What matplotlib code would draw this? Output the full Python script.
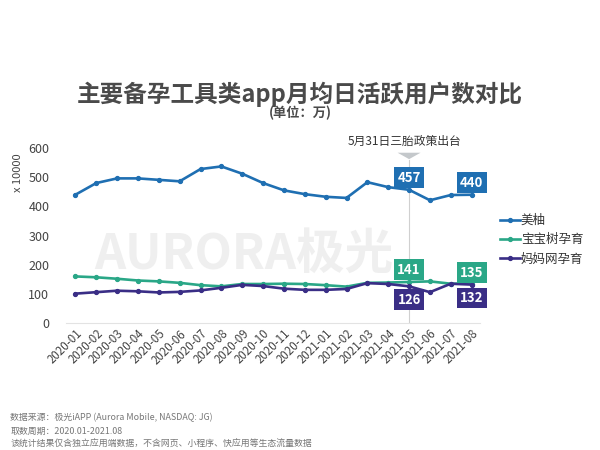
import matplotlib
matplotlib.use('Agg')
import matplotlib.pyplot as plt
from matplotlib.patches import Polygon

plt.rcParams['font.family'] = ['Noto Sans CJK SC', 'DejaVu Sans']

# DATA
months = ['2020-01', '2020-02', '2020-03', '2020-04', '2020-05', '2020-06', '2020-07',
          '2020-08', '2020-09', '2020-10', '2020-11', '2020-12', '2021-01', '2021-02',
          '2021-03', '2021-04', '2021-05', '2021-06', '2021-07', '2021-08']
meiyou = [440, 480, 496, 496, 491, 486, 528, 537, 512, 480, 455, 442, 433, 429, 483, 466, 457, 421, 439, 440]
babytree = [160, 157, 152, 146, 143, 138, 130, 126, 134, 134, 135, 134, 130, 125, 138, 139, 141, 143, 135, 135]
mama = [101, 106, 111, 109, 105, 107, 112, 121, 131, 127, 118, 114, 114, 117, 137, 134, 126, 106, 135, 132]
names = ['美柚', '宝宝树孕育', '妈妈网孕育']
colors = ['#1f6fb2', '#2aa787', '#3a2e86']
event_idx = 16

fig = plt.figure(figsize=(6, 4.5), dpi=100)
ax = fig.add_axes([0.11, 0.282, 0.69, 0.389])
ax.set_facecolor('none')
x = list(range(len(months)))

# watermark behind the lines
ax.text(8.1, 236, 'AURORA极光', ha='center', va='center', fontsize=35, fontweight='bold',
        style='italic', color='#efefef', zorder=0)

for vals, name, c in zip([meiyou, babytree, mama], names, colors):
    ax.plot(x, vals, color=c, lw=1.9, marker='o', ms=2.8, label=name, zorder=3)

ax.set_ylim(0, 600)
ax.set_xlim(-0.45, 19.4)
ax.set_yticks(range(0, 601, 100))
ax.set_xticks(x)
ax.set_xticklabels(months, rotation=45, ha='right', rotation_mode='anchor', fontsize=8.3, color='#444444')
ax.tick_params(axis='y', labelsize=9, colors='#444444', length=0, pad=12)
ax.tick_params(axis='x', length=0, pad=3)
for s in ['top', 'right', 'left']:
    ax.spines[s].set_visible(False)
ax.spines['bottom'].set_color('#e3e3e3')
ax.set_ylabel('x 10000', fontsize=8, color='#444444')
ax.yaxis.set_label_coords(-0.105, 0.86)

# event line, marker and value boxes
ax.axvline(event_idx, ymin=0, ymax=0.93, color='#d0d0d0', lw=0.8, zorder=1)
ax.add_patch(Polygon([[event_idx - 0.55, 584], [event_idx + 0.55, 584], [event_idx, 562]],
                     closed=True, fc='#c4c8cb', ec='none', clip_on=False))
ax.text(event_idx - 0.2, 622, '5月31日三胎政策出台', ha='center', va='center', fontsize=8.5, color='#333333')

boxes = [(event_idx, meiyou, 0, 42), (19, meiyou, 0, 41),
         (event_idx, babytree, 1, 42), (19, babytree, 1, 38),
         (event_idx, mama, 2, -46), (19, mama, 2, -46)]
for i, series, ci, off in boxes:
    ax.text(i, series[i] + off, str(series[i]), ha='center', va='center', fontsize=9.5,
            fontweight='bold', color='white', zorder=5,
            bbox=dict(boxstyle='square,pad=0.25', fc=colors[ci], ec='none'))

ax.legend(loc='center left', bbox_to_anchor=(1.02, 0.475), frameon=False, fontsize=9,
          handlelength=1.6, handletextpad=0.1, labelspacing=0.5, labelcolor='#333333')

# titles
fig.text(0.5, 0.79, '主要备孕工具类app月均日活跃用户数对比', ha='center', va='center',
         fontsize=17, fontweight='bold', color='#4a4a4a')
fig.text(0.5, 0.748, '(单位：万)', ha='center', va='center', fontsize=9.5, fontweight='bold', color='#4a4a4a')

# footer
foot = ['数据来源：极光iAPP (Aurora Mobile, NASDAQ: JG)',
        '取数周期：2020.01-2021.08',
        '该统计结果仅含独立应用端数据，不含网页、小程序、快应用等生态流量数据']
for k, t in enumerate(foot):
    fig.text(0.017, 0.071 - k * 0.029, t, ha='left', va='center', fontsize=6.4,
             style='italic', color='#777777')

fig.savefig('out.png', dpi=100)
